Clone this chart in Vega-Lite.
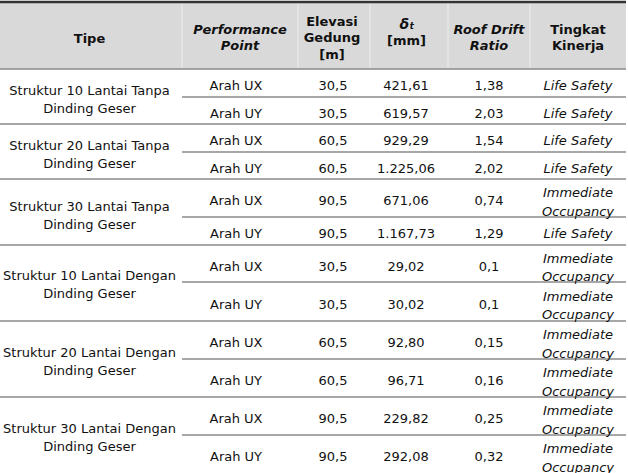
{
  "$schema": "https://vega.github.io/schema/vega-lite/v6.json",
  "width": 628,
  "height": 473,
  "padding": 0,
  "autosize": {"type": "none"},
  "config": {
    "view": {"stroke": null},
    "axis": {"disable": true},
    "locale": {"number": {"decimal": ",", "thousands": ".", "grouping": [3], "currency": ["", ""]}},
    "text": {"font": "DejaVu Sans", "fontSize": 13, "color": "#111111", "lineBreak": "\n"}
  },
  "datasets": {
    "body": [
      {"row": 1, "arah": "Arah UX", "elevasi": 30.5, "delta": 421.61, "rdr": 1.38, "kinerja": "Life Safety"},
      {"row": 2, "arah": "Arah UY", "elevasi": 30.5, "delta": 619.57, "rdr": 2.03, "kinerja": "Life Safety"},
      {"row": 3, "arah": "Arah UX", "elevasi": 60.5, "delta": 929.29, "rdr": 1.54, "kinerja": "Life Safety"},
      {"row": 4, "arah": "Arah UY", "elevasi": 60.5, "delta": 1225.06, "rdr": 2.02, "kinerja": "Life Safety"},
      {"row": 5, "arah": "Arah UX", "elevasi": 90.5, "delta": 671.06, "rdr": 0.74, "kinerja": "Immediate\nOccupancy"},
      {"row": 6, "arah": "Arah UY", "elevasi": 90.5, "delta": 1167.73, "rdr": 1.29, "kinerja": "Life Safety"},
      {"row": 7, "arah": "Arah UX", "elevasi": 30.5, "delta": 29.02, "rdr": 0.1, "kinerja": "Immediate\nOccupancy"},
      {"row": 8, "arah": "Arah UY", "elevasi": 30.5, "delta": 30.02, "rdr": 0.1, "kinerja": "Immediate\nOccupancy"},
      {"row": 9, "arah": "Arah UX", "elevasi": 60.5, "delta": 92.80, "rdr": 0.15, "kinerja": "Immediate\nOccupancy"},
      {"row": 10, "arah": "Arah UY", "elevasi": 60.5, "delta": 96.71, "rdr": 0.16, "kinerja": "Immediate\nOccupancy"},
      {"row": 11, "arah": "Arah UX", "elevasi": 90.5, "delta": 229.82, "rdr": 0.25, "kinerja": "Immediate\nOccupancy"},
      {"row": 12, "arah": "Arah UY", "elevasi": 90.5, "delta": 292.08, "rdr": 0.32, "kinerja": "Immediate\nOccupancy"}
    ],
    "groups": [
      {"mid": 1.5, "tipe": "Struktur 10 Lantai Tanpa\nDinding Geser"},
      {"mid": 3.5, "tipe": "Struktur 20 Lantai Tanpa\nDinding Geser"},
      {"mid": 5.4, "tipe": "Struktur 30 Lantai Tanpa\nDinding Geser"},
      {"mid": 7.5, "tipe": "Struktur 10 Lantai Dengan\nDinding Geser"},
      {"mid": 9.5, "tipe": "Struktur 20 Lantai Dengan\nDinding Geser"},
      {"mid": 11.5, "tipe": "Struktur 30 Lantai Dengan\nDinding Geser"}
    ],
    "hlines": [
      {"b": 0.5, "from": -0.5},
      {"b": 1.5, "from": 0.5},
      {"b": 2.5, "from": -0.5},
      {"b": 3.5, "from": 0.5},
      {"b": 4.5, "from": -0.5},
      {"b": 5.5, "from": 0.5},
      {"b": 6.5, "from": -0.5},
      {"b": 7.5, "from": 0.5},
      {"b": 8.5, "from": -0.5},
      {"b": 9.5, "from": 0.5},
      {"b": 10.5, "from": -0.5},
      {"b": 11.5, "from": 0.5}
    ],
    "vlines": [{"c": 0.5}, {"c": 1.5}, {"c": 2.5}, {"c": 3.5}, {"c": 4.5}],
    "one": [{}]
  },
  "layer": [
    {
      "data": {"name": "one"},
      "mark": {"type": "rect", "color": "#d9d9d9"},
      "encoding": {
        "x": {"datum": -0.5, "type": "quantitative", "scale": {"type": "linear", "domain": [-0.5, 0.5, 1.5, 2.5, 3.5, 4.5, 5.5], "range": [-3, 182, 298, 370, 448, 530, 626], "nice": false, "zero": false}},
        "x2": {"datum": 5.5},
        "y": {"datum": -0.5, "type": "quantitative", "scale": {"type": "linear", "domain": [-0.5, 0.5, 1.5, 2.5, 3.5, 4.5, 5.5, 6.5, 7.5, 8.5, 9.5, 10.5, 11.5, 12.5], "range": [2, 69, 97, 124, 152, 179, 217, 245, 282, 321, 359, 397, 435, 473], "nice": false, "zero": false}},
        "y2": {"datum": 0.5}
      }
    },
    {
      "data": {"name": "vlines"},
      "mark": {"type": "rule", "color": "#ededed", "strokeWidth": 1},
      "encoding": {
        "x": {"field": "c", "type": "quantitative"},
        "y": {"datum": -0.5, "type": "quantitative"},
        "y2": {"datum": 0.5}
      }
    },
    {
      "data": {"name": "hlines"},
      "mark": {"type": "rule", "color": "#8a8a8a", "strokeWidth": 1.5},
      "encoding": {
        "x": {"field": "from", "type": "quantitative"},
        "x2": {"datum": 5.5},
        "y": {"field": "b", "type": "quantitative"}
      }
    },
    {
      "data": {"name": "one"},
      "mark": {"type": "rule", "color": "#333333", "strokeWidth": 2.5},
      "encoding": {
        "x": {"datum": -0.5, "type": "quantitative"},
        "x2": {"datum": 5.5},
        "y": {"datum": -0.5, "type": "quantitative"}
      }
    },
    {
      "data": {"name": "one"},
      "mark": {"type": "text", "fontWeight": "bold", "dy": 3, "text": "Tipe"},
      "encoding": {
        "x": {"datum": 0, "type": "quantitative"},
        "y": {"datum": 0, "type": "quantitative"}
      }
    },
    {
      "data": {"name": "one"},
      "mark": {"type": "text", "fontWeight": "bold", "lineHeight": 16.5, "dy": -14, "dx": -2, "text": "Elevasi\nGedung\n[m]"},
      "encoding": {
        "x": {"datum": 2, "type": "quantitative"},
        "y": {"datum": 0, "type": "quantitative"}
      }
    },
    {
      "data": {"name": "one"},
      "mark": {"type": "text", "fontWeight": "bold", "lineHeight": 16, "dy": -6, "text": "Tingkat\nKinerja"},
      "encoding": {
        "x": {"datum": 5, "type": "quantitative"},
        "y": {"datum": 0, "type": "quantitative"}
      }
    },
    {
      "data": {"name": "one"},
      "mark": {"type": "text", "fontWeight": "bold", "fontStyle": "italic", "lineHeight": 16, "dy": -6, "text": "Performance\nPoint"},
      "encoding": {
        "x": {"datum": 1, "type": "quantitative"},
        "y": {"datum": 0, "type": "quantitative"}
      }
    },
    {
      "data": {"name": "one"},
      "mark": {"type": "text", "fontWeight": "bold", "fontStyle": "italic", "lineHeight": 16, "dy": -6, "text": "Roof Drift\nRatio"},
      "encoding": {
        "x": {"datum": 4, "type": "quantitative"},
        "y": {"datum": 0, "type": "quantitative"}
      }
    },
    {
      "data": {"name": "one"},
      "mark": {"type": "text", "fontWeight": "bold", "fontStyle": "italic", "fontSize": 14, "dy": -11, "dx": -2, "text": "δₜ"},
      "encoding": {
        "x": {"datum": 3, "type": "quantitative"},
        "y": {"datum": 0, "type": "quantitative"}
      }
    },
    {
      "data": {"name": "one"},
      "mark": {"type": "text", "fontWeight": "bold", "dy": 5, "dx": -2.5, "text": "[mm]"},
      "encoding": {
        "x": {"datum": 3, "type": "quantitative"},
        "y": {"datum": 0, "type": "quantitative"}
      }
    },
    {
      "data": {"name": "groups"},
      "mark": {"type": "text", "lineHeight": 18, "dy": -6},
      "encoding": {
        "x": {"datum": 0, "type": "quantitative"},
        "y": {"field": "mid", "type": "quantitative"},
        "text": {"field": "tipe", "type": "nominal"}
      }
    },
    {
      "data": {"name": "body"},
      "mark": {"type": "text", "dy": 3, "dx": -4},
      "encoding": {
        "x": {"datum": 1, "type": "quantitative"},
        "y": {"field": "row", "type": "quantitative"},
        "text": {"field": "arah", "type": "nominal"}
      }
    },
    {
      "data": {"name": "body"},
      "mark": {"type": "text", "dy": 3, "dx": -1},
      "encoding": {
        "x": {"datum": 2, "type": "quantitative"},
        "y": {"field": "row", "type": "quantitative"},
        "text": {"field": "elevasi", "type": "quantitative", "format": ".1f"}
      }
    },
    {
      "data": {"name": "body"},
      "mark": {"type": "text", "dy": 3, "dx": -3},
      "encoding": {
        "x": {"datum": 3, "type": "quantitative"},
        "y": {"field": "row", "type": "quantitative"},
        "text": {"field": "delta", "type": "quantitative", "format": ",.2f"}
      }
    },
    {
      "data": {"name": "body"},
      "mark": {"type": "text", "dy": 3},
      "encoding": {
        "x": {"datum": 4, "type": "quantitative"},
        "y": {"field": "row", "type": "quantitative"},
        "text": {"field": "rdr", "type": "quantitative", "format": ".2~f"}
      }
    },
    {
      "data": {"name": "body"},
      "transform": [{"filter": "indexof(datum.kinerja, '\\n') < 0"}],
      "mark": {"type": "text", "fontStyle": "italic", "dy": 3},
      "encoding": {
        "x": {"datum": 5, "type": "quantitative"},
        "y": {"field": "row", "type": "quantitative"},
        "text": {"field": "kinerja", "type": "nominal"}
      }
    },
    {
      "data": {"name": "body"},
      "transform": [{"filter": "indexof(datum.kinerja, '\\n') >= 0"}],
      "mark": {"type": "text", "fontStyle": "italic", "lineHeight": 18.5, "dy": -5},
      "encoding": {
        "x": {"datum": 5, "type": "quantitative"},
        "y": {"field": "row", "type": "quantitative"},
        "text": {"field": "kinerja", "type": "nominal"}
      }
    }
  ]
}
